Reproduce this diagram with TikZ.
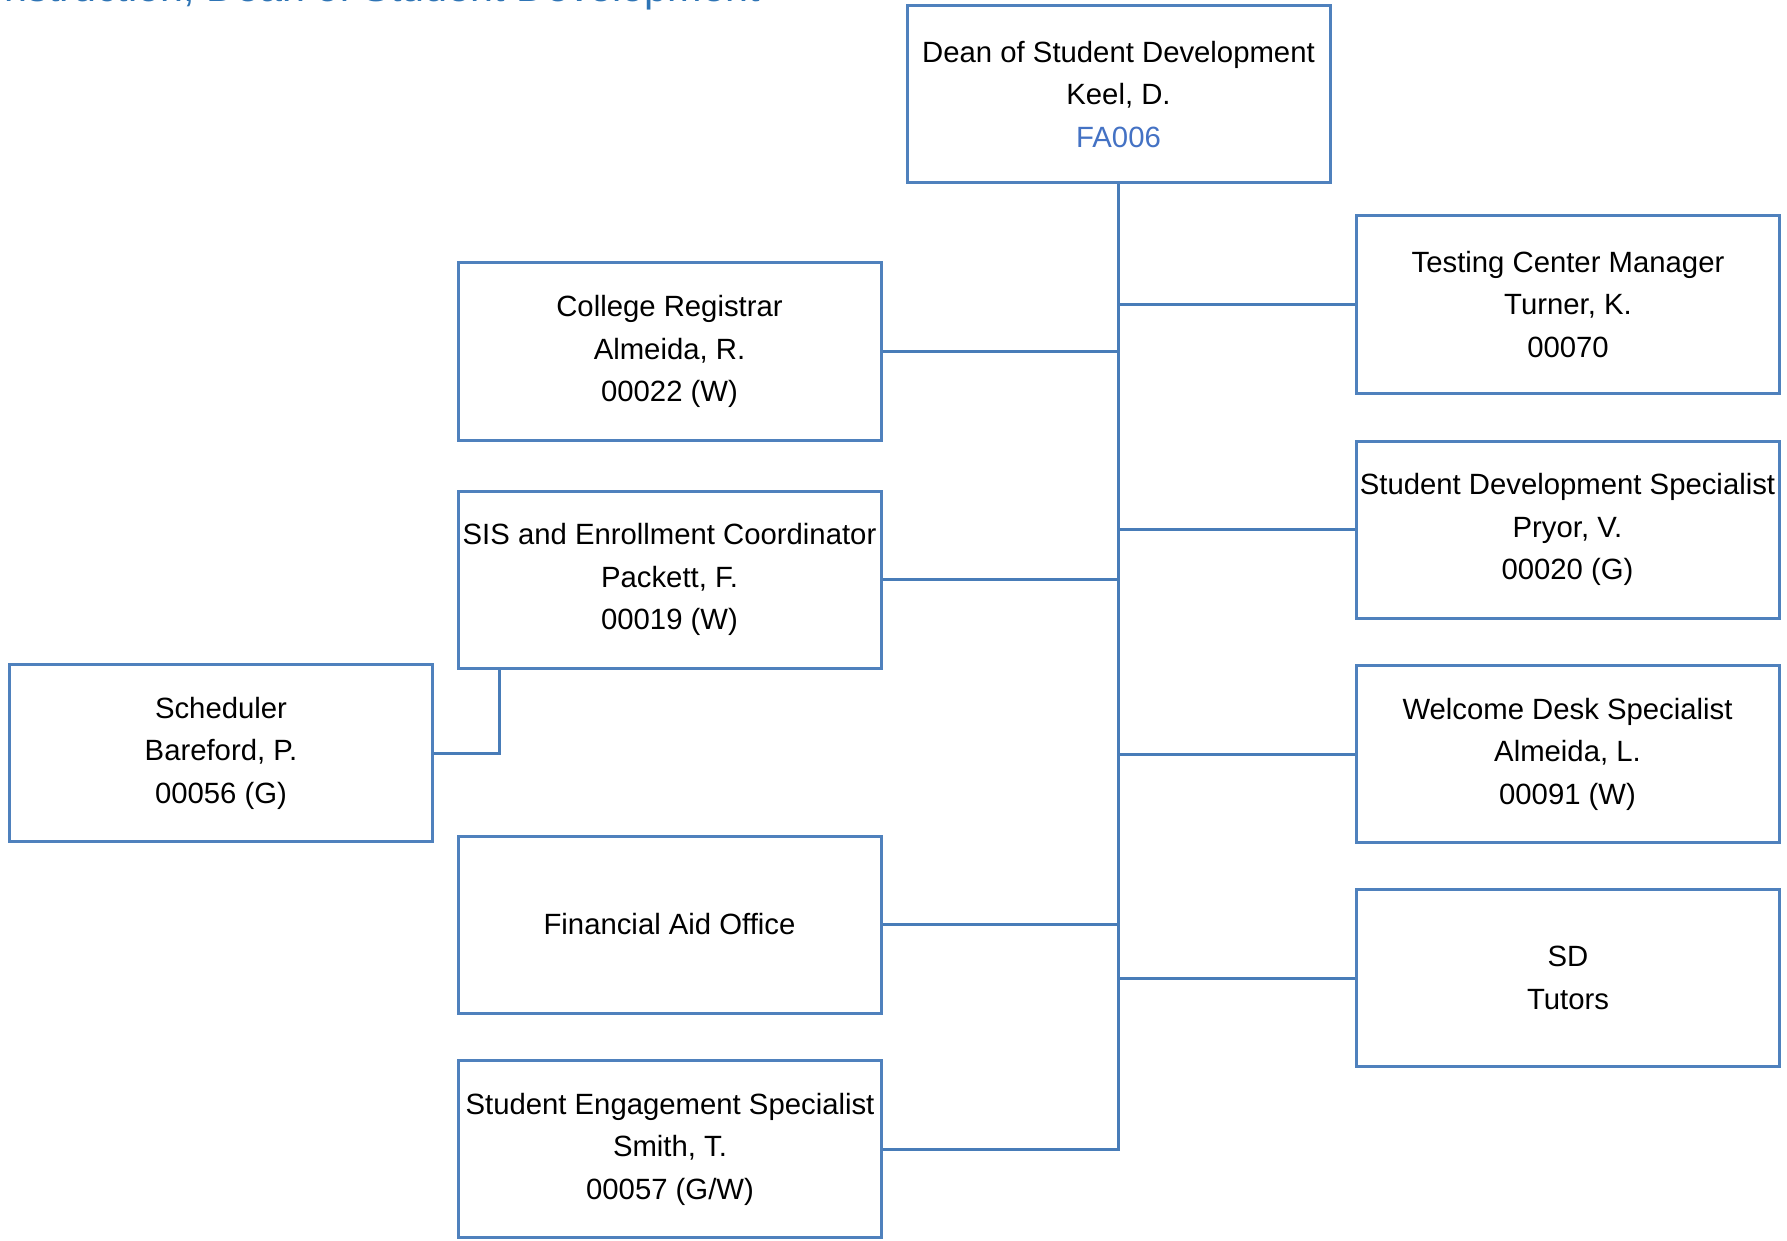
\documentclass[tikz,border=0pt]{standalone}
\usepackage{fontspec}
\setmainfont{Liberation Sans}
\definecolor{boxcol}{RGB}{79,129,189}
\definecolor{linecol}{RGB}{72,124,184}
\definecolor{codecol}{RGB}{68,114,196}
\definecolor{titlecol}{RGB}{46,116,181}
\tikzset{
  orgbox/.style={draw=boxcol, line width=3pt, fill=white, minimum width=423pt, minimum height=177pt,
    inner sep=0pt, align=center, font=\fontsize{29.3}{42.5}\selectfont},
  conn/.style={draw=linecol, line width=3pt},
}
\begin{document}
\begin{tikzpicture}[x=1pt,y=-1pt]
\fill[white] (0,0) rectangle (1787,1241);
\useasboundingbox (0,0) rectangle (1787,1241);
\node[anchor=base east, text=titlecol, inner sep=0pt, font=\fontsize{41.3}{50}\selectfont] (title) at (760,1.5) {of Instruction, Dean of Student Development};
\coordinate (trunkend) at (1118.5,1149);
\node[orgbox] (dean) at (1118.5,94.5) {Dean of Student Development\\Keel, D.\\\textcolor{codecol}{FA006}};
\node[orgbox] (testing) at (1568,304.5) {Testing Center Manager\\Turner, K.\\00070};
\node[orgbox] (sds) at (1567.5,529.5) {Student Development Specialist\\Pryor, V.\\00020 (G)};
\node[orgbox] (welcome) at (1567.5,754) {Welcome Desk Specialist\\Almeida, L.\\00091 (W)};
\node[orgbox] (tutors) at (1568,978) {SD\\Tutors};
\node[orgbox] (registrar) at (669.5,351.5) {College Registrar\\Almeida, R.\\00022 (W)};
\node[orgbox] (sis) at (669.5,579.5) {SIS and Enrollment Coordinator\\Packett, F.\\00019 (W)};
\node[orgbox] (scheduler) at (221,753) {Scheduler\\Bareford, P.\\00056 (G)};
\node[orgbox] (finaid) at (669.5,924.5) {Financial Aid Office};
\node[orgbox] (engage) at (670,1149) {Student Engagement Specialist\\Smith, T.\\00057 (G/W)};
\draw[conn] (dean.south) |- (engage.east);
\draw[conn] (dean.south |- testing.west) -- (testing.west);
\draw[conn] (dean.south |- sds.west) -- (sds.west);
\draw[conn] (dean.south |- welcome.west) -- (welcome.west);
\draw[conn] (dean.south |- tutors.west) -- (tutors.west);
\draw[conn] (dean.south |- registrar.east) -- (registrar.east);
\draw[conn] (dean.south |- sis.east) -- (sis.east);
\draw[conn] (dean.south |- finaid.east) -- (finaid.east);
\draw[conn] ([xshift=42.5pt]sis.south west) |- (scheduler.east);
\end{tikzpicture}
\end{document}
